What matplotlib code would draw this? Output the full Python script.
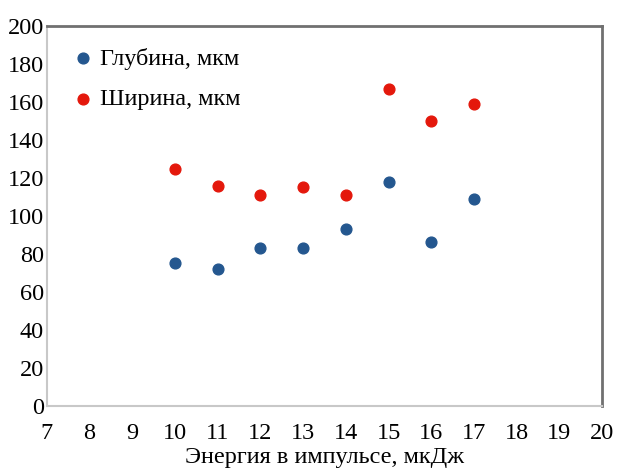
import matplotlib.pyplot as plt

plt.rcParams['font.family'] = ['Liberation Serif', 'DejaVu Serif']

energy = [10, 11, 12, 13, 14, 15, 16, 17]
depth = [75, 72, 83, 83, 93, 118, 86.5, 109]
width = [124.5, 115.5, 111, 115, 111, 167, 150, 159]

fig = plt.figure(figsize=(6.17, 4.70), dpi=100)
ax = fig.add_axes([0.076, 0.136, 0.900, 0.809])

ax.scatter(energy, depth, s=60, color='#24578f', label='Глубина, мкм', zorder=3)
ax.scatter(energy, width, s=60, color='#e4180c', label='Ширина, мкм', zorder=3)

ax.set_xlim(7, 20)
ax.set_ylim(0, 200)
ax.set_xticks(range(7, 21))
ax.set_yticks(range(0, 201, 20))
ax.tick_params(length=0, labelsize=17.5)
ax.tick_params(axis='x', pad=12)
ax.tick_params(axis='y', pad=2)
ax.set_xlabel('Энергия в импульсе, мкДж', fontsize=17.5, labelpad=2)

for side in ['top', 'right']:
    ax.spines[side].set_color('#707070')
    ax.spines[side].set_linewidth(2)
for side in ['left', 'bottom']:
    ax.spines[side].set_color('#c8c8c8')
    ax.spines[side].set_linewidth(1.5)

ax.legend(loc='upper left', frameon=False, fontsize=17.5, handletextpad=0.1,
          labelspacing=0.75, borderaxespad=0.5, handlelength=1.2)

fig.savefig('out.png', dpi=100)
